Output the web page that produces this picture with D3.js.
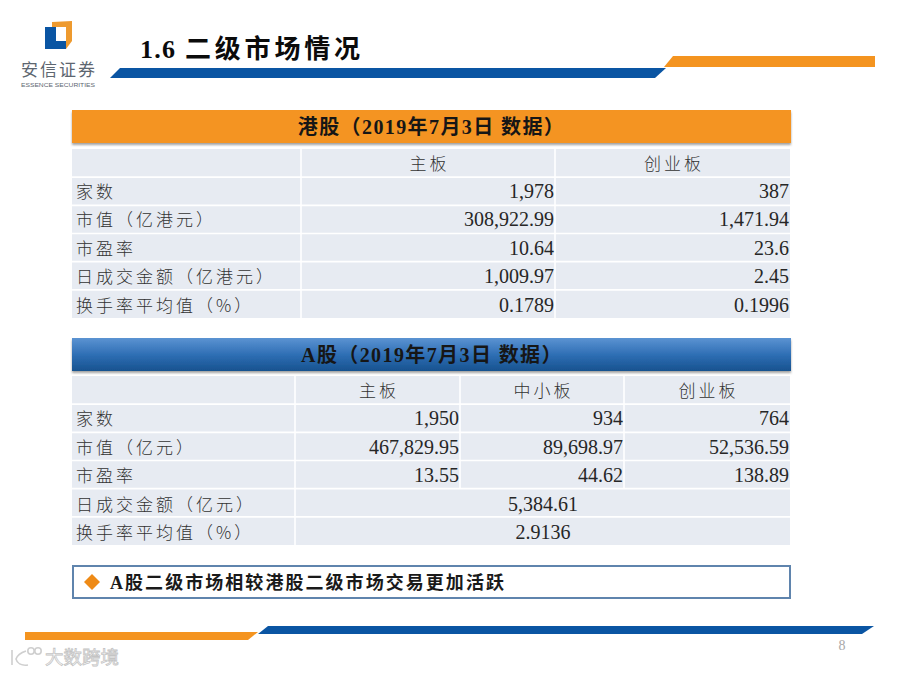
<!DOCTYPE html>
<html><head><meta charset="utf-8">
<script src="https://d3js.org/d3.v7.min.js"></script>
<style>
html,body{margin:0;padding:0;background:#fff}
svg{display:block}
.cjk{font-family:"Noto Sans CJK SC","Liberation Serif",serif}
.mix{font-family:"Liberation Serif","Noto Sans CJK SC",serif}
</style></head><body>
<svg id="c" width="900" height="675"></svg>
<script>
const slideNumber = "1.6";
const slideTitle = "二级市场情况";
const hkTitle = "港股（2019年7月3日 数据）";
const hkColumns = ["", "主板", "创业板"];
const hkRows = ["家数", "市值（亿港元）", "市盈率", "日成交金额（亿港元）", "换手率平均值（%）"];
const hkMain = ["1,978", "308,922.99", "10.64", "1,009.97", "0.1789"];
const hkGem = ["387", "1,471.94", "23.6", "2.45", "0.1996"];
const aTitle = "A股（2019年7月3日 数据）";
const aColumns = ["", "主板", "中小板", "创业板"];
const aRows = ["家数", "市值（亿元）", "市盈率", "日成交金额（亿元）", "换手率平均值（%）"];
const aMain = ["1,950", "467,829.95", "13.55"];
const aSme = ["934", "89,698.97", "44.62"];
const aGem = ["764", "52,536.59", "138.89"];
const aMerged = ["5,384.61", "2.9136"];
const note = "A股二级市场相较港股二级市场交易更加活跃";

const svg = d3.select("#c");
const BLUE = "#0a55a3", ORANGE = "#f49420", CELL = "#e7ebf2";
const defs = svg.append("defs");
const g = defs.append("linearGradient").attr("id","blueBar").attr("x1",0).attr("y1",0).attr("x2",0).attr("y2",1);
g.append("stop").attr("offset","0").attr("stop-color","#5b93d2");
g.append("stop").attr("offset","0.5").attr("stop-color","#2f6fb5");
g.append("stop").attr("offset","1").attr("stop-color","#17528f");
const f = defs.append("filter").attr("id","soft").attr("x","-5%").attr("y","-20%").attr("width","110%").attr("height","150%");
f.append("feDropShadow").attr("dx",0).attr("dy",2).attr("stdDeviation",1.2).attr("flood-color","#555").attr("flood-opacity",0.55);

const poly = (pts, fill) => svg.append("polygon").attr("points", pts.map(p=>p.join(",")).join(" ")).attr("fill", fill);

// decorative bars
poly([[120,68],[666,68],[655,78],[110,78]], BLUE);
poly([[673,56],[875,56],[875,67],[664,67]], ORANGE);
poly([[25,632],[258,632],[248,640],[25,640]], ORANGE);
poly([[268,626],[874,626],[862,634],[258,634]], BLUE);

// logo
poly([[45,27],[56,27],[56,41],[66,41],[66,49],[45,49]], BLUE);
poly([[52,22],[72,21],[72,41],[66,49],[66,27],[52,27]], "#ee9a2e");
svg.append("text").attr("class","cjk").attr("x",58).attr("y",75.5).attr("text-anchor","middle")
  .attr("font-size",17).attr("fill","#5d6670").attr("textLength",74).text("安信证券");
svg.append("text").attr("x",58).attr("y",86.5).attr("text-anchor","middle").attr("font-family","Liberation Sans")
  .attr("font-size",6).attr("fill","#5d6670").attr("textLength",74).attr("lengthAdjust","spacingAndGlyphs").text("ESSENCE SECURITIES");

const tt = svg.append("text").attr("class","mix").attr("x",140).attr("y",58).attr("font-size",26).attr("font-weight",700).attr("fill","#0b0b0b");
tt.append("tspan").attr("letter-spacing",1.2).text(slideNumber);
tt.append("tspan").attr("x",185).attr("letter-spacing",3.8).text(slideTitle);

function banner(y, h, fill, label, cx){
  svg.append("rect").attr("x",72).attr("y",y).attr("width",719).attr("height",h).attr("fill",fill).attr("filter","url(#soft)");
  svg.append("text").attr("class","mix").attr("x",cx).attr("y",y+h/2+7).attr("text-anchor","middle")
    .attr("font-size",20).attr("font-weight",700).attr("letter-spacing",1.4).attr("fill","#161616").text(label);
}
function table(top, bottom, edges, rows){
  const y = d3.scaleBand().domain(d3.range(rows.length+1)).range([top,bottom]);
  const gr = svg.append("g");
  gr.append("rect").attr("x",edges[0]).attr("y",top).attr("width",edges[edges.length-1]-edges[0]).attr("height",bottom-top).attr("fill",CELL);
  gr.selectAll(".h").data(d3.range(1,rows.length+1)).join("line").attr("x1",edges[0]).attr("x2",edges[edges.length-1])
    .attr("y1",d=>y(d)).attr("y2",d=>y(d)).attr("stroke","#fff").attr("stroke-width",1.6);
  return {y, gr};
}
function label(x, y, t, anchor){
  return svg.append("text").attr("class","cjk").attr("x",x).attr("y",y).attr("text-anchor",anchor||"start")
    .attr("font-size",17).attr("font-weight",300).attr("letter-spacing",3).attr("fill","#333").text(t);
}
function num(x, y, t, anchor){
  return svg.append("text").attr("font-family","Liberation Serif").attr("x",x).attr("y",y).attr("text-anchor",anchor||"end")
    .attr("font-size",20).attr("fill","#262626").text(t);
}
function vlines(gr, xs, y1, y2){
  gr.selectAll(".v").data(xs).join("line").attr("x1",d=>d).attr("x2",d=>d).attr("y1",y1).attr("y2",y2).attr("stroke","#fff").attr("stroke-width",1.6);
}

// HK
banner(110,33,ORANGE,hkTitle,431.5);
const hkEdges = [72,301,555,790];
const hk = table(149,318,hkEdges,hkRows);
vlines(hk.gr,[301,555],149,318);
const hkY = d3.scaleLinear().domain([0,5]).range([169.6,311.6]);
hkColumns.forEach((c,i)=>{ if(c) label((hkEdges[i]+hkEdges[i+1])/2+1.5, hkY(0), c, "middle"); });
hkRows.forEach((r,i)=>{
  label(76, hkY(i+1), r);
  num(554, hkY(i+1), hkMain[i]);
  num(789, hkY(i+1), hkGem[i]);
});

// A
banner(338,33,"url(#blueBar)",aTitle,432);
const aEdges = [72,295,460,624,790];
const a = table(376,545,aEdges,aRows);
vlines(a.gr,[295],376,545);
a.gr.selectAll(".w").data([460,624]).join("line").attr("x1",d=>d).attr("x2",d=>d).attr("y1",376).attr("y2",a.y(4)).attr("stroke","#fff").attr("stroke-width",1.6);
const aY = d3.scaleLinear().domain([0,5]).range([396.6,539]);
aColumns.forEach((c,i)=>{ if(c) label((aEdges[i]+aEdges[i+1])/2+1.5, aY(0), c, "middle"); });
aRows.forEach((r,i)=>label(76, aY(i+1), r));
aMain.forEach((v,i)=>{
  num(459, aY(i+1), v);
  num(623, aY(i+1), aSme[i]);
  num(789, aY(i+1), aGem[i]);
});
aMerged.forEach((v,i)=>num(543, aY(i+4), v, "middle"));

// note
svg.append("rect").attr("x",73).attr("y",566).attr("width",717).attr("height",32).attr("fill","#fff").attr("stroke","#5f84ad").attr("stroke-width",2);
poly([[92,574],[100,582],[92,590],[84,582]], "#ee8a16");
svg.append("text").attr("class","mix").attr("x",110).attr("y",589).attr("font-size",18).attr("font-weight",700)
  .attr("letter-spacing",2.05).attr("fill","#1a1a1a").text(note);

// page number + watermark
svg.append("text").attr("font-family","Liberation Serif").attr("x",842).attr("y",650).attr("text-anchor","middle").attr("font-size",14).attr("fill","#a8a8a8").text("8");
const wm = svg.append("g").attr("fill","none").attr("stroke","#cfcfcf").attr("stroke-width",1.6);
wm.append("path").attr("d","M12 650V665M26 651C20 653 17 656 16 659C17 663 21 666 28 665");
wm.append("circle").attr("cx",31).attr("cy",651).attr("r",3.2);
wm.append("circle").attr("cx",38).attr("cy",651).attr("r",3.2);
svg.append("text").attr("class","cjk").attr("x",45).attr("y",664).attr("font-size",18.5).attr("fill","#fff").attr("stroke","#c4c4c4").attr("stroke-width",0.8).text("大数跨境");
</script></body></html>
